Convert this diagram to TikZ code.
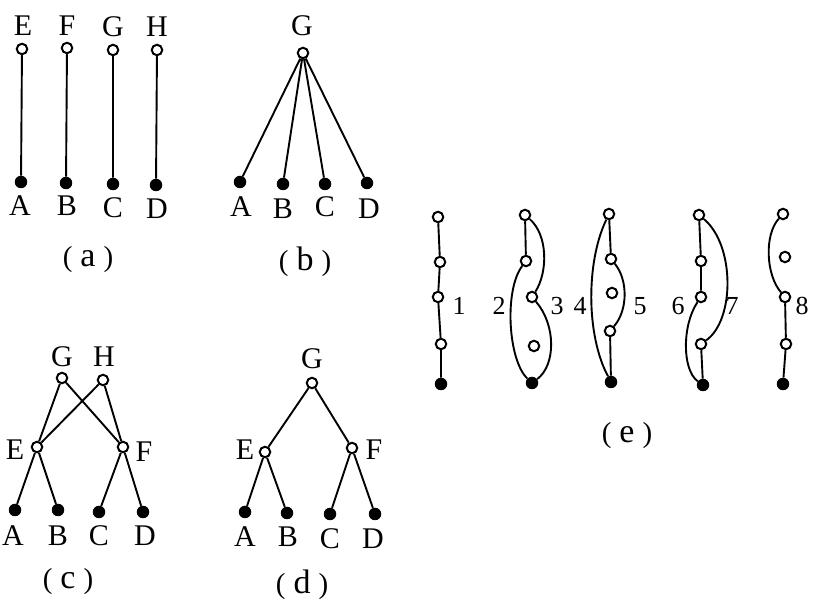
\documentclass[tikz,border=0pt]{standalone}
\usepackage{fontspec}
\setmainfont{Liberation Serif}
\newcommand{\capt}[1]{(\hspace{8pt}{\fontsize{34}{38}\selectfont #1}\hspace{8pt})}
\begin{document}
\begin{tikzpicture}[x=1pt,y=-1pt,
  oc/.style={circle,draw,fill=white,line width=2pt,minimum size=10.5pt,inner sep=0pt},
  fc/.style={circle,fill=black,minimum size=12.5pt,inner sep=0pt},
  lbl/.style={inner sep=0pt,font=\fontsize{30}{35}\selectfont},
  num/.style={inner sep=0pt,font=\fontsize{26}{30}\selectfont},
  captxt/.style={inner sep=0pt,font=\fontsize{29}{34}\selectfont},
  edge/.style={line width=1.9pt}]
\useasboundingbox (0,0) rectangle (820,601);
% ---------- (a)
\node[oc] (aE) at (22,49) {};
\node[oc] (aF) at (67,48) {};
\node[oc] (aG) at (113,50) {};
\node[oc] (aH) at (157,50) {};
\node[fc] (aA) at (21,182) {};
\node[fc] (aB) at (66,183) {};
\node[fc] (aC) at (113,184) {};
\node[fc] (aD) at (156,185) {};
\draw[edge] (aE)--(aA) (aF)--(aB) (aG)--(aC) (aH)--(aD);
\node[lbl] (laE) at (23,26) {E};
\node[lbl] (laF) at (67,26) {F};
\node[lbl] (laG) at (113,27) {G};
\node[lbl] (laH) at (157,27) {H};
\node[lbl] (laA) at (20,206) {A};
\node[lbl] (laB) at (67,206) {B};
\node[lbl] (laC) at (113,208) {C};
\node[lbl] (laD) at (157,209) {D};
\node[captxt] (capa) at (88,260) {\capt{a}};
% ---------- (b)
\node[oc] (bG) at (303,53) {};
\node[fc] (bA) at (240,182) {};
\node[fc] (bB) at (283,184) {};
\node[fc] (bC) at (325,184) {};
\node[fc] (bD) at (367,183) {};
\draw[edge] (bG)--(bA) (bG)--(bB) (bG)--(bC) (bG)--(bD);
\node[lbl] (lbG) at (302,26) {G};
\node[lbl] (lbA) at (241,207) {A};
\node[lbl] (lbB) at (283,209) {B};
\node[lbl] (lbC) at (325,207) {C};
\node[lbl] (lbD) at (369,209) {D};
\node[captxt] (capb) at (305,262) {\capt{b}};
% ---------- (c)
\node[oc] (cG) at (62,378) {};
\node[oc] (cH) at (103,380) {};
\node[oc] (cE) at (37,447) {};
\node[oc] (cF) at (123,447) {};
\node[fc] (cA) at (15,510) {};
\node[fc] (cB) at (58,510) {};
\node[fc] (cC) at (99,512) {};
\node[fc] (cD) at (143,512) {};
\draw[edge] (cG)--(cE) (cG)--(cF) (cH)--(cE) (cH)--(cF)
  (cE)--(cA) (cE)--(cB) (cF)--(cC) (cF)--(cD);
\node[lbl] (lcG) at (62,357) {G};
\node[lbl] (lcH) at (104,357) {H};
\node[lbl] (lcE) at (15,450) {E};
\node[lbl] (lcF) at (144,452) {F};
\node[lbl] (lcA) at (13,536) {A};
\node[lbl] (lcB) at (58,536) {B};
\node[lbl] (lcC) at (99,536) {C};
\node[lbl] (lcD) at (145,536) {D};
\node[captxt] (capc) at (68,582) {\capt{c}};
% ---------- (d)
\node[oc] (dG) at (312,383) {};
\node[oc] (dE) at (265,452) {};
\node[oc] (dF) at (352,448) {};
\node[fc] (dA) at (245,512) {};
\node[fc] (dB) at (287,513) {};
\node[fc] (dC) at (330,514) {};
\node[fc] (dD) at (375,514) {};
\draw[edge] (dG)--(dE) (dG)--(dF) (dE)--(dA) (dE)--(dB) (dF)--(dC) (dF)--(dD);
\node[lbl] (ldG) at (312,359) {G};
\node[lbl] (ldE) at (245,450) {E};
\node[lbl] (ldF) at (374,450) {F};
\node[lbl] (ldA) at (245,537) {A};
\node[lbl] (ldB) at (288,537) {B};
\node[lbl] (ldC) at (330,539) {C};
\node[lbl] (ldD) at (373,539) {D};
\node[captxt] (capd) at (302,585) {\capt{d}};
% ---------- (e) graph 1
\node[oc] (t1) at (438,217) {};
\node[oc] (s1) at (440,262) {};
\node[oc] (m1) at (438,297) {};
\node[oc] (l1) at (441,344) {};
\node[fc] (f1) at (441,384) {};
\draw[edge] (t1)--(s1)--(m1)--(l1)--(f1);
% graph 2/3
\node[oc] (t2) at (525,215) {};
\node[oc] (s2) at (526,261) {};
\node[oc] (m2) at (532,297) {};
\node[oc] (i2) at (534,346) {};
\node[fc] (f2) at (532,383) {};
\draw[edge] (t2)--(s2);
\draw[edge] (t2) .. controls (548,235) and (548,272) .. (m2);
\draw[edge] (m2) .. controls (556,325) and (556,365) .. (f2);
\draw[edge] (s2) .. controls (504,290) and (508,360) .. (f2);
% graph 4/5
\node[oc] (t4) at (609,214) {};
\node[oc] (s4) at (611,259) {};
\node[oc] (i4) at (612,293) {};
\node[oc] (l4) at (610,331) {};
\node[fc] (f4) at (611,382) {};
\draw[edge] (t4)--(s4) (l4)--(f4);
\draw[edge] (t4) .. controls (586,262) and (586,335) .. (f4);
\draw[edge] (s4) .. controls (628,280) and (628,310) .. (l4);
% graph 6/7
\node[oc] (t6) at (699,215) {};
\node[oc] (s6) at (701,261) {};
\node[oc] (m6) at (701,297) {};
\node[oc] (l6) at (701,344) {};
\node[fc] (f6) at (703,385) {};
\draw[edge] (t6)--(s6)--(m6) (l6)--(f6);
\draw[edge] (t6) .. controls (735,245) and (735,320) .. (l6);
\draw[edge] (m6) .. controls (682,325) and (682,370) .. (f6);
% graph 8
\node[oc] (t8) at (783,214) {};
\node[oc] (i8) at (785,257) {};
\node[oc] (m8) at (785,297) {};
\node[oc] (l8) at (786,344) {};
\node[fc] (f8) at (783,384) {};
\draw[edge] (m8)--(l8)--(f8);
\draw[edge] (t8) .. controls (764,235) and (766,275) .. (m8);
% numbers
\node[num] (n1) at (459,306) {1};
\node[num] (n2) at (499,306) {2};
\node[num] (n3) at (557,306) {3};
\node[num] (n4) at (580,306) {4};
\node[num] (n5) at (640,306) {5};
\node[num] (n6) at (678,306) {6};
\node[num] (n7) at (732,306) {7};
\node[num] (n8) at (802,306) {8};
\node[captxt] (cape) at (627,436) {\capt{e}};
\end{tikzpicture}
\end{document}
